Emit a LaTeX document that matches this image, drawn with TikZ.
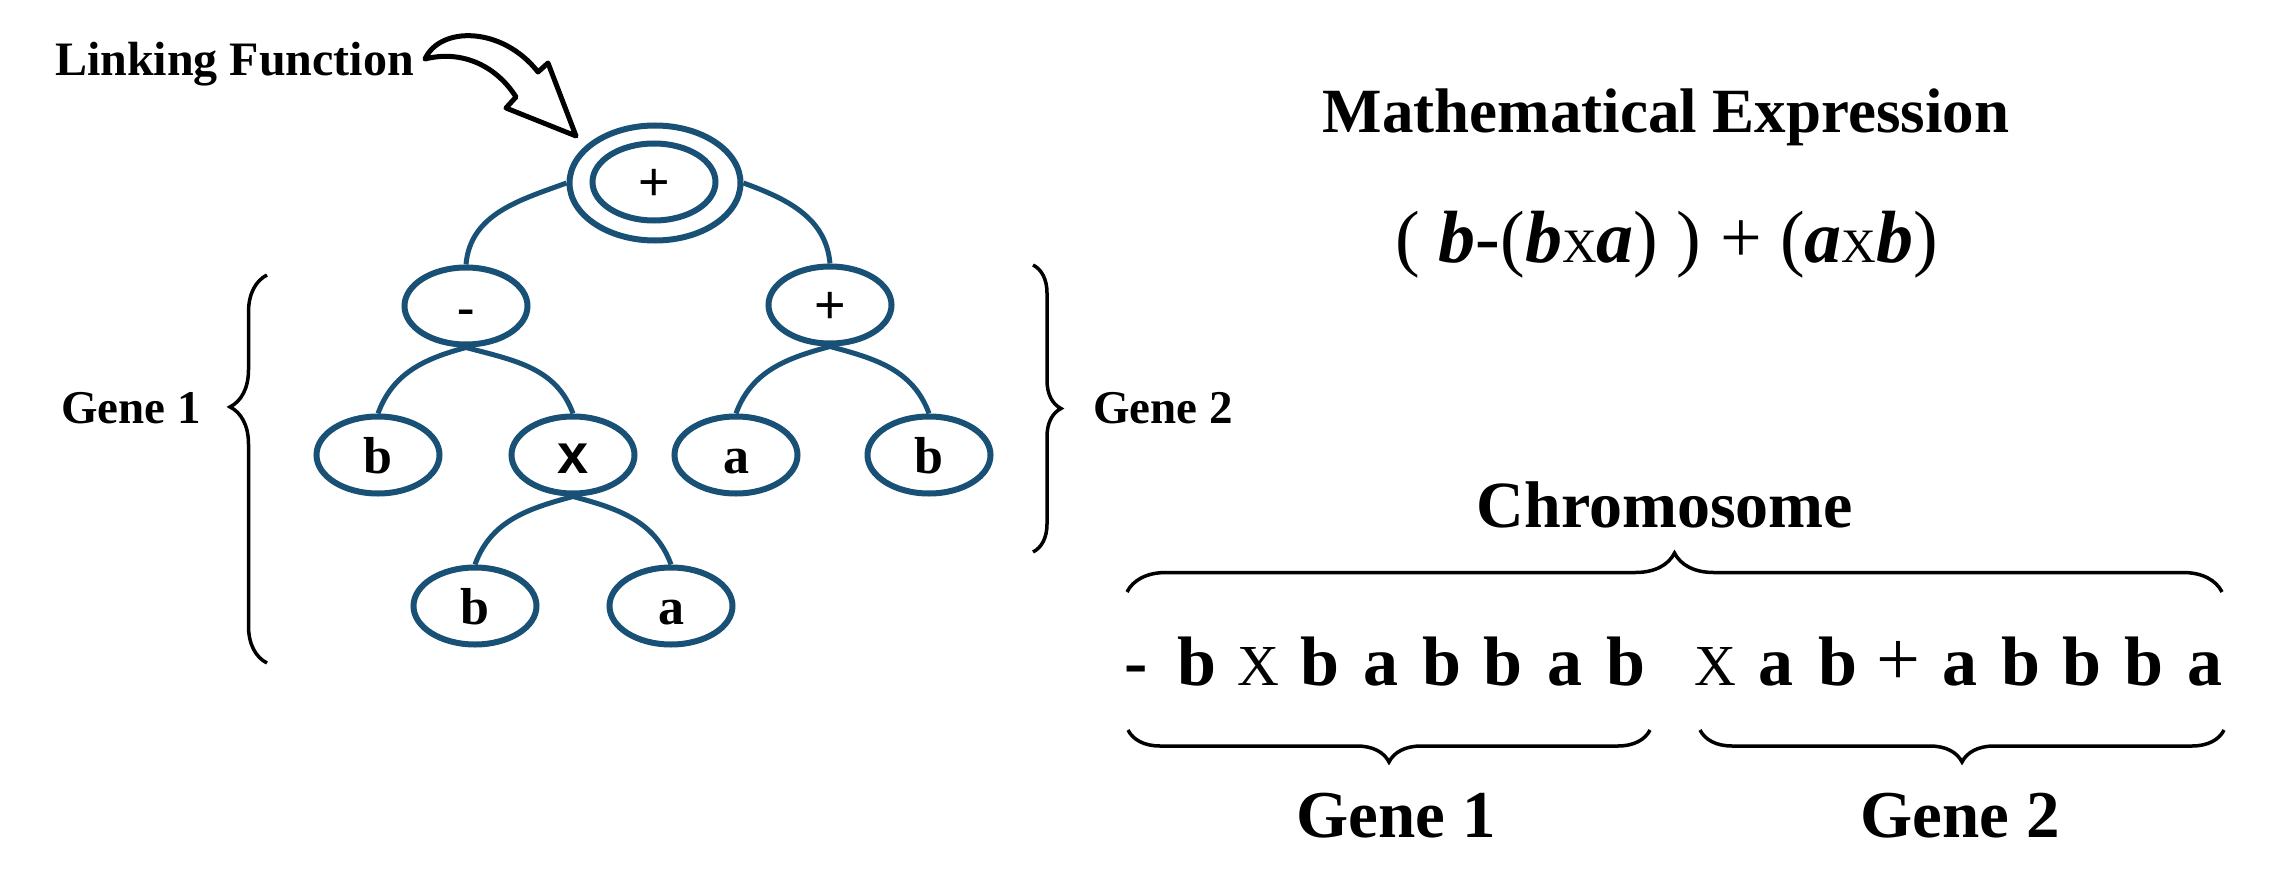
\documentclass[tikz,border=0pt]{standalone}
\usepackage{fontspec}
\setmainfont{Liberation Serif}
\newfontfamily\sansfam{Liberation Sans}
\usetikzlibrary{shapes.geometric,decorations.pathreplacing}
\definecolor{treeblue}{RGB}{24,80,118}
\newcommand{\fsz}[1]{\fontsize{#1}{#1}\selectfont}
\newcommand{\cbox}[1]{\makebox[61.2pt]{#1}}
\newcommand{\bi}[1]{{\bfseries\itshape #1}}
\begin{document}
\begin{tikzpicture}[x=1pt,y=1pt,
  gnode/.style={ellipse, draw=treeblue, line width=6pt, minimum width=123pt,
    minimum height=77pt, inner sep=0pt, fill=white, text height=36pt,
    text depth=0pt, font=\fsz{52}\bfseries},
  conn/.style={draw=treeblue, line width=5pt},
  brc/.style={decorate, draw=black, line width=3.5pt},
  lbl/.style={inner sep=0pt, anchor=base}]
\fill[white] (0,0) rectangle (2273,-880);
\useasboundingbox (0,0) rectangle (2273,-880);

% linking function arrow
\draw[line width=5pt, fill=white, line join=round]
  (425,-59) .. controls (440,-26) and (502,-26) .. (538,-72)
  -- (548,-63) -- (576,-136) -- (506,-108) -- (516,-97)
  .. controls (495,-64) and (460,-50) .. (425,-59) -- cycle;
\node[lbl, anchor=base west, font=\fsz{48}\bfseries] (link) at (55,-76) {Linking Function};

% tree
\node[ellipse, draw=treeblue, line width=6pt, minimum width=171pt,
  minimum height=115pt, inner sep=0pt, fill=white] (root) at (655,-183) {};
\node[gnode, font=\sansfam\fsz{54}] (rootin) at (654,-182) {+};
\node[gnode] (minus) at (466,-306) {-};
\node[gnode, font=\sansfam\fsz{54}] (plus) at (830,-305) {+};
\node[gnode] (b1) at (378,-455) {b};
\node[gnode, font=\sansfam\bfseries\fsz{56}] (times) at (573,-455) {x};
\node[gnode] (a2) at (736,-455) {a};
\node[gnode] (b2) at (929,-455) {b};
\node[gnode] (b3) at (475,-606) {b};
\node[gnode] (a3) at (671,-606) {a};

\draw[conn] (root.west) to[out=200,in=85] (minus.north);
\draw[conn] (root.east) to[out=-20,in=95] (plus.north);
\draw[conn] (minus.south) to[out=195,in=70] (b1.north);
\draw[conn] (minus.south) to[out=-15,in=110] (times.north);
\draw[conn] (plus.south) to[out=195,in=70] (a2.north);
\draw[conn] (plus.south) to[out=-15,in=110] (b2.north);
\draw[conn] (times.south) to[out=195,in=70] (b3.north);
\draw[conn] (times.south) to[out=-15,in=110] (a3.north);

% gene braces beside the tree
\draw[brc, decoration={brace, amplitude=37pt, aspect=0.66}] (267,-663) -- (267,-275);
\node[lbl, font=\fsz{47}\bfseries] (g1l) at (131,-423) {Gene 1};
\draw[brc, decoration={brace, amplitude=28pt}] (1033,-265) -- (1033,-552);
\node[lbl, font=\fsz{47}\bfseries] (g2l) at (1163,-423) {Gene 2};

% mathematical expression
\node[lbl, font=\fsz{63}\bfseries] (mtitle) at (1666,-132) {Mathematical Expression};
\node[lbl, font=\fsz{74}] (expr) at (1667,-262)
  {( \bi{b}-(\bi{b}{\fsz{48}X}\bi{a}) ) + (\bi{a}{\fsz{48}X}\bi{b})};

% chromosome
\node[lbl, font=\fsz{66}\bfseries] (chrom) at (1665,-527) {Chromosome};
\draw[brc, decoration={brace, amplitude=39pt}] (1127,-592) -- (2222,-592);
\node[lbl, font=\fsz{70}\bfseries] (str1) at (1381,-685)
  {\cbox{-}\cbox{b}\cbox{\mdseries\fsz{58}X}\cbox{b}\cbox{a}\cbox{b}\cbox{b}\cbox{a}\cbox{b}};
\node[lbl, font=\fsz{70}\bfseries] (str2) at (1960,-685)
  {\cbox{\mdseries\fsz{58}X}\cbox{a}\cbox{b}\cbox{\mdseries\fsz{78}+}\cbox{a}\cbox{b}\cbox{b}\cbox{b}\cbox{a}};
\draw[brc, decoration={brace, amplitude=32pt, mirror}] (1128,-730) -- (1650,-730);
\draw[brc, decoration={brace, amplitude=32pt, mirror}] (1700,-730) -- (2224,-730);
\node[lbl, font=\fsz{67}\bfseries] (g1b) at (1396,-837) {Gene 1};
\node[lbl, font=\fsz{67}\bfseries] (g2b) at (1960,-837) {Gene 2};
\end{tikzpicture}
\end{document}
